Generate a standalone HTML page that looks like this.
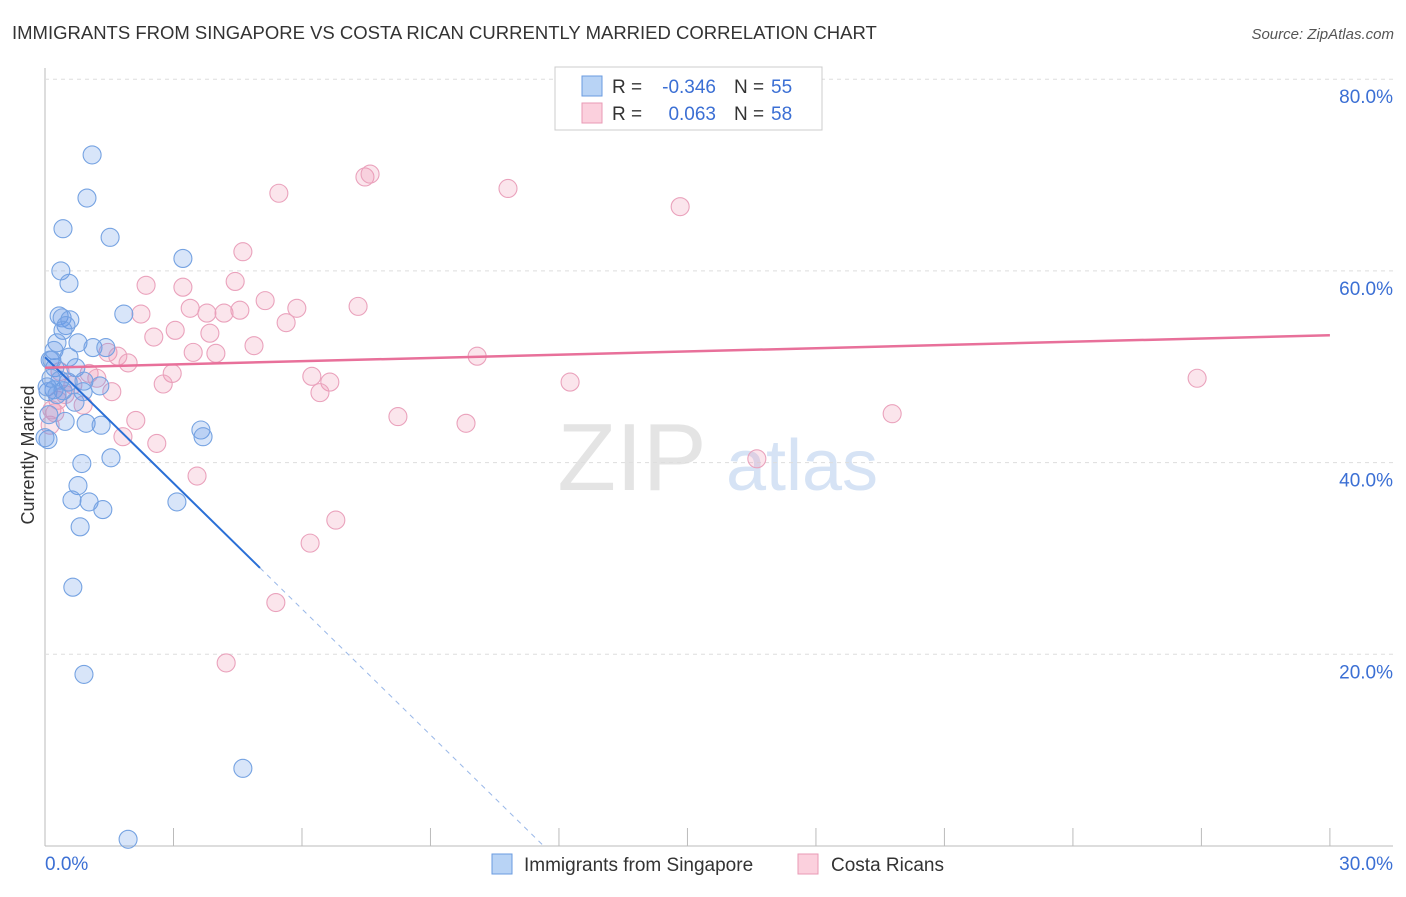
<!DOCTYPE html>
<html><head><meta charset="utf-8"><style>
body{margin:0;background:#fff;font-family:"Liberation Sans",sans-serif}
svg text{font-family:"Liberation Sans",sans-serif}
</style></head><body>
<svg id="c" width="1406" height="892">
<text x="12" y="39" font-size="18.5" fill="#333">IMMIGRANTS FROM SINGAPORE VS COSTA RICAN CURRENTLY MARRIED CORRELATION CHART</text>
<text x="1394" y="39" font-size="15" fill="#555" font-style="italic" text-anchor="end">Source: ZipAtlas.com</text>
<text x="632" y="490" font-size="96" fill="#e4e4e4" font-family="Liberation Serif" text-anchor="middle">ZIP</text>
<text x="802" y="490" font-size="72" fill="#d6e3f5" text-anchor="middle">atlas</text>
<g id="grid"></g><g id="pts"></g><g id="lines"></g>
<text transform="translate(34,455) rotate(-90)" font-size="18" fill="#333" text-anchor="middle">Currently Married</text>
<g>
<rect x="555" y="67" width="267" height="63" fill="#fff" stroke="#ccc"/>
<rect x="582" y="76" width="20" height="20" fill="#b8d3f5" stroke="#6a9be0"/>
<rect x="582" y="103" width="20" height="20" fill="#fbd0dd" stroke="#e89ab5"/>
<text x="612" y="93" font-size="19" fill="#333">R =</text>
<text x="716" y="93" font-size="19" fill="#3b6fd4" text-anchor="end">-0.346</text>
<text x="734" y="93" font-size="19" fill="#333">N =</text>
<text x="771" y="93" font-size="19" fill="#3b6fd4">55</text>
<text x="612" y="120" font-size="19" fill="#333">R =</text>
<text x="716" y="120" font-size="19" fill="#3b6fd4" text-anchor="end">0.063</text>
<text x="734" y="120" font-size="19" fill="#333">N =</text>
<text x="771" y="120" font-size="19" fill="#3b6fd4">58</text>
</g>
<g>
<rect x="492" y="854" width="20" height="20" fill="#b8d3f5" stroke="#6a9be0"/>
<text x="524" y="871" font-size="19" fill="#333">Immigrants from Singapore</text>
<rect x="798" y="854" width="20" height="20" fill="#fbd0dd" stroke="#e89ab5"/>
<text x="831" y="871" font-size="19" fill="#333">Costa Ricans</text>
</g>
</svg>
<script>
const blueX=[1.10,0.98,0.42,1.52,3.22,0.37,0.56,1.84,0.33,0.40,0.58,0.49,0.42,0.77,0.28,1.12,1.42,0.21,0.56,0.12,0.23,0.72,0.14,0.54,0.91,1.28,0.21,0.07,0.42,0.89,0.70,0.47,0.96,1.31,3.64,3.69,0.07,1.54,0.86,0.77,0.63,1.03,3.08,1.35,0.82,0.65,0.91,4.62,1.94,0.05,0.35,0.16,0.0,0.09,0.28];
const blueY=[72.1,67.6,64.4,63.5,61.3,60.0,58.7,55.5,55.3,55.1,54.9,54.3,53.8,52.5,52.5,52.0,52.0,51.7,51.0,50.7,49.9,49.9,48.8,48.4,48.5,48.0,47.6,47.4,47.5,47.4,46.3,44.3,44.1,43.9,43.4,42.7,42.4,40.5,39.9,37.6,36.1,35.9,35.9,35.1,33.3,27.0,17.9,8.1,0.7,47.9,48.6,50.7,42.6,45.0,47.1];
const pinkX=[5.46,7.47,7.59,10.81,14.83,4.62,4.44,2.36,3.22,5.14,5.88,7.31,3.39,3.78,4.18,4.55,2.24,5.63,3.04,2.54,3.85,4.88,3.46,3.99,1.47,1.70,1.94,10.09,6.23,2.97,6.65,6.42,1.03,1.21,2.76,1.56,12.26,26.90,8.24,9.83,19.78,2.12,1.82,2.61,0.35,0.65,0.30,0.89,0.23,0.12,3.55,16.62,6.79,6.19,5.39,4.23,0.47,0.16];
const pinkY=[68.1,69.8,70.1,68.6,66.7,62.0,58.9,58.5,58.3,56.9,56.1,56.3,56.1,55.6,55.6,55.9,55.5,54.6,53.8,53.1,53.5,52.2,51.5,51.4,51.5,51.1,50.4,51.1,49.0,49.3,48.4,47.3,49.3,48.8,48.2,47.4,48.4,48.8,44.8,44.1,45.1,44.4,42.7,42.0,49.5,48.1,46.5,46.0,45.2,43.9,38.6,40.4,34.0,31.6,25.4,19.1,47.1,45.5];
const yTicks=[20,40,60,80];
const yTickLabels=["20.0%","40.0%","60.0%","80.0%"];
const xTicks=[0,3,6,9,12,15,18,21,24,27,30];
const blueTrend=[51.0,-4.38];
const pinkTrend=[49.9,0.113];
const X=v=>45+v*42.83, Y=v=>846-v*9.585;
const NS='http://www.w3.org/2000/svg';
function mk(t,a,p){const e=document.createElementNS(NS,t);for(const k in a)e.setAttribute(k,a[k]);p.appendChild(e);return e;}
const grid=document.getElementById('grid');
mk('line',{x1:45,y1:68,x2:45,y2:846,stroke:'#bbb'},grid);
mk('line',{x1:45,y1:846,x2:1393,y2:846,stroke:'#bbb'},grid);
yTicks.forEach((t,i)=>{
 const l=mk('line',{x1:45,y1:Y(t),x2:1393,y2:Y(t),stroke:'#ddd','stroke-dasharray':'4,4'},grid);
 
 
 const tx=mk('text',{x:1393,y:Y(t)+24,'font-size':19,fill:'#3b6fd4','text-anchor':'end'},grid);
 tx.textContent=yTickLabels[i];
 
 
});
xTicks.forEach(t=>{
 const l=mk('line',{x1:X(t),y1:828,x2:X(t),y2:846,stroke:'#bbb'},grid);
 
 
});
let t0=mk('text',{x:45,y:870,'font-size':19,fill:'#3b6fd4'},grid);t0.textContent='0.0%';


let t1=mk('text',{x:1393,y:870,'font-size':19,fill:'#3b6fd4','text-anchor':'end'},grid);t1.textContent='30.0%';


const pts=document.getElementById('pts');
pinkX.forEach((x,i)=>{const c=mk('circle',{cx:X(x),cy:Y(pinkY[i]),r:9,fill:'rgba(240,150,180,0.25)',stroke:'#eaa2bc','stroke-width':1.1},pts);
 
 });
blueX.forEach((x,i)=>{const c=mk('circle',{cx:X(x),cy:Y(blueY[i]),r:9,fill:'rgba(100,150,230,0.25)',stroke:'#76a3e2','stroke-width':1.1},pts);
 
 });
const lines=document.getElementById('lines');
const bz=-blueTrend[0]/blueTrend[1];
let b1=mk('line',{x1:X(0),y1:Y(blueTrend[0]),x2:X(5.02),y2:Y(blueTrend[0]+blueTrend[1]*5.02),stroke:'#2a6fd6','stroke-width':2},lines);


let b2=mk('line',{x1:X(5.02),y1:Y(blueTrend[0]+blueTrend[1]*5.02),x2:X(bz),y2:Y(0),stroke:'#9ab8e8','stroke-width':1,'stroke-dasharray':'5,5'},lines);


let p1=mk('line',{x1:X(0),y1:Y(pinkTrend[0]),x2:X(30),y2:Y(pinkTrend[0]+pinkTrend[1]*30),stroke:'#e8709a','stroke-width':2.5},lines);


</script>
</body></html>
